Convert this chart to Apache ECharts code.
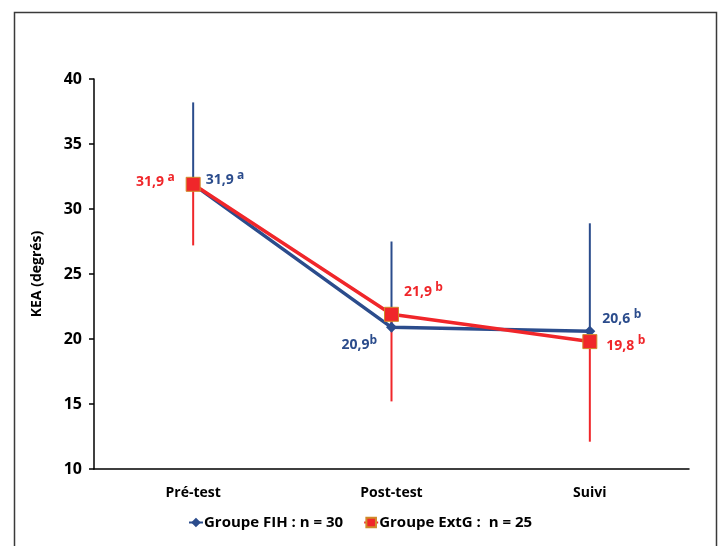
<!DOCTYPE html>
<html><head><meta charset="utf-8">
<script src="https://cdn.jsdelivr.net/npm/echarts@6/dist/echarts.min.js"></script>
<style>html,body{margin:0;padding:0;background:#fff}#c{width:720px;height:546px}</style>
</head><body><div id="c"></div>
<script>
const categories = ['Pré-test', 'Post-test', 'Suivi'];
const fihValues = [31.9, 20.9, 20.6];
const extgValues = [31.9, 21.9, 19.8];
const fihUpper = [38.2, 27.5, 28.9];
const extgLower = [27.2, 15.2, 12.1];
const fihLetters = ['a', 'b', 'b'];
const extgLetters = ['a', 'b', 'b'];
const yTicks = [10, 15, 20, 25, 30, 35, 40];

const BLUE = '#2B4C8C';
const RED = '#F0262A';
const FONT = 'Open Sans';

const fmt = v => v.toFixed(1).replace('.', ',');

const fihLabelPos = [
  {position: 'right', offset: [2, -4], sep: ' '},
  {position: 'left', offset: [-4, 18], sep: ''},
  {position: 'right', offset: [2, -12], sep: ' '}
];
const extgLabelPos = [
  {position: 'left', offset: [-6, -2], sep: ' '},
  {position: 'right', offset: [0, -22], sep: ' '},
  {position: 'right', offset: [4, 4], sep: ' '}
];

function richFor(color) {
  return {
    v: {fontFamily: FONT, fontWeight: 'bold', fontSize: 14, color: color},
    s: {fontFamily: FONT, fontWeight: 'bold', fontSize: 12, color: color, padding: [0, 0, 10, 0]}
  };
}

const fihData = fihValues.map((v, i) => ({
  value: v,
  label: {
    show: true, position: fihLabelPos[i].position, offset: fihLabelPos[i].offset,
    formatter: '{v|' + fmt(v) + '}' + fihLabelPos[i].sep + '{s|' + fihLetters[i] + '}',
    rich: richFor(BLUE)
  }
}));
const extgData = extgValues.map((v, i) => ({
  value: v,
  label: {
    show: true, position: extgLabelPos[i].position, offset: extgLabelPos[i].offset,
    formatter: '{v|' + fmt(v) + '}' + extgLabelPos[i].sep + '{s|' + extgLetters[i] + '}',
    rich: richFor(RED)
  }
}));

function errRender(color) {
  return function (params, api) {
    const x = api.value(0);
    const p1 = api.coord([x, api.value(1)]);
    const p2 = api.coord([x, api.value(2)]);
    return {
      type: 'line',
      shape: {x1: p1[0], y1: p1[1], x2: p2[0], y2: p2[1]},
      style: {stroke: color, lineWidth: 2}
    };
  };
}

const chart = echarts.init(document.getElementById('c'), null, {renderer: 'canvas'});
chart.setOption({
  animation: false,
  backgroundColor: '#fff',
  graphic: [{
    type: 'rect', left: 12, top: 10, silent: true, z: -10,
    shape: {width: 702, height: 560},
    style: {fill: 'none', stroke: '#3a3a3a', lineWidth: 1.5}
  }],
  grid: {left: 94, right: 31, top: 79, bottom: 77},
  legend: {
    bottom: 11, left: 'center', itemGap: 20, itemWidth: 14, itemHeight: 12,
    textStyle: {fontFamily: FONT, fontWeight: 'bold', fontSize: 15, color: '#000', padding: [0, 0, 0, -4]},
    data: ['Groupe FIH : n = 30', 'Groupe ExtG :  n = 25']
  },
  xAxis: {
    type: 'category', data: categories, boundaryGap: true,
    axisLine: {lineStyle: {color: '#000', width: 1.5}},
    axisTick: {show: false},
    axisLabel: {fontFamily: FONT, fontWeight: 'bold', fontSize: 14, color: '#000', margin: 17}
  },
  yAxis: {
    type: 'value', min: 10, max: 40, interval: 5,
    name: 'KEA (degrés)', nameLocation: 'middle', nameGap: 50, nameRotate: 90,
    nameTextStyle: {fontFamily: FONT, fontWeight: 'bold', fontSize: 14, color: '#000'},
    axisLine: {show: true, lineStyle: {color: '#000', width: 1.5}},
    axisTick: {show: true, length: 5, lineStyle: {color: '#000', width: 1.5}},
    splitLine: {show: false},
    axisLabel: {fontFamily: FONT, fontWeight: 'bold', fontSize: 16, color: '#000', margin: 12,
      formatter: v => yTicks.includes(v) ? String(v) : ''}
  },
  series: [
    {
      type: 'custom', name: 'errFIH', renderItem: errRender(BLUE), z: 1,
      data: fihValues.map((v, i) => [i, v, fihUpper[i]]),
      encode: {x: 0, y: [1, 2]}, silent: true
    },
    {
      type: 'custom', name: 'errExtG', renderItem: errRender(RED), z: 1,
      data: extgValues.map((v, i) => [i, v, extgLower[i]]),
      encode: {x: 0, y: [1, 2]}, silent: true
    },
    {
      type: 'line', name: 'Groupe FIH : n = 30', data: fihData, z: 3,
      symbol: 'diamond', symbolSize: 11,
      lineStyle: {color: BLUE, width: 3.5},
      itemStyle: {color: BLUE}
    },
    {
      type: 'line', name: 'Groupe ExtG :  n = 25', data: extgData, z: 4,
      symbol: 'rect', symbolSize: 14,
      lineStyle: {color: RED, width: 3.5},
      itemStyle: {color: RED, borderColor: '#D08A2A', borderWidth: 1}
    }
  ]
});
</script>
</body></html>
